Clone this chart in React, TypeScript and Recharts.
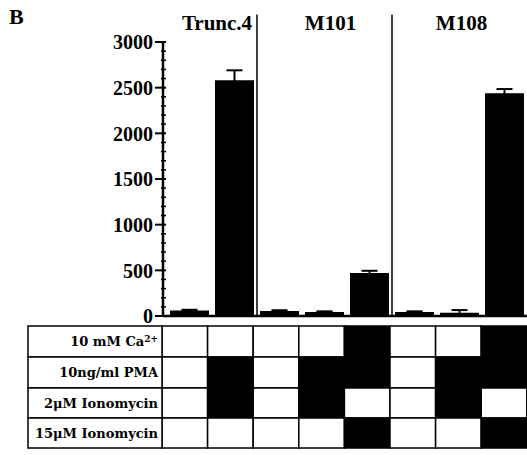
import { BarChart, Bar, XAxis, YAxis, ErrorBar, ReferenceLine } from "recharts";

const conditions = ["c1", "c2", "c3", "c4", "c5", "c6", "c7", "c8"];
const signal = [60, 2580, 55, 45, 470, 45, 35, 2440];
const signalErr = [8, 110, 8, 6, 25, 6, 30, 45];

const groups = [
  { name: "Trunc.4", at: "c2", position: "start", shift: 5 },
  { name: "M101", at: "c4", position: "middle", shift: 6 },
  { name: "M108", at: "c7", position: "middle", shift: 2 },
];
const dividers = ["c3", "c6"];

const rowLabels = ["10 mM Ca", "10ng/ml PMA", "2\u03bcM Ionomycin", "15\u03bcM Ionomycin"];
const ca = [0, 0, 0, 0, 1, 0, 0, 1];
const pma = [0, 1, 0, 1, 1, 0, 1, 1];
const iono2 = [0, 1, 0, 1, 0, 0, 1, 0];
const iono15 = [0, 0, 0, 0, 1, 0, 0, 1];
const rows = [ca, pma, iono2, iono15];

const majorTicks = [0, 500, 1000, 1500, 2000, 2500, 3000];
const yTicks = majorTicks.flatMap((t, i) =>
  i === 0 ? [t] : [t - 400, t - 300, t - 200, t - 100, t]
);

const data = conditions.map((c, i) => ({ c, v: signal[i], e: signalErr[i] }));

const SERIF = "'Liberation Serif', 'DejaVu Serif', serif";
const rowTop = [10, 41, 72, 102, 132];
const COL = 45.6;

function YTick(props: any) {
  const { x, y, payload } = props;
  const major = payload.value % 500 === 0;
  return (
    <g>
      <line
        x1={major ? x - 8 : x - 2}
        x2={x + 3}
        y1={y}
        y2={y}
        stroke="#000"
        strokeWidth={major ? 2 : 1.5}
      />
      {major && (
        <text
          x={x - 10}
          y={y}
          dy="0.36em"
          textAnchor="end"
          fontFamily={SERIF}
          fontWeight="bold"
          fontSize={20}
          fill="#000"
        >
          {payload.value}
        </text>
      )}
    </g>
  );
}

function TableTick(props: any) {
  const { x, y, index } = props;
  // table columns are a touch wider than the bar bands and start 5px to the left
  const left = x - 27.5 + index * (COL - 45);
  return (
    <g>
      {rows.map((row, r) => (
        <rect
          key={r}
          x={left}
          y={y + rowTop[r]}
          width={COL}
          height={rowTop[r + 1] - rowTop[r]}
          fill={row[index] ? "#000" : "#fff"}
          stroke="#000"
          strokeWidth={1.5}
        />
      ))}
      {index === 0 &&
        rowLabels.map((label, r) => (
          <g key={"l" + r}>
            <rect
              x={28}
              y={y + rowTop[r]}
              width={left - 28}
              height={rowTop[r + 1] - rowTop[r]}
              fill="#fff"
              stroke="#000"
              strokeWidth={1.5}
            />
            <text
              x={left - 4}
              y={y + (rowTop[r] + rowTop[r + 1]) / 2}
              dy="0.36em"
              textAnchor="end"
              fontFamily="'DejaVu Serif', serif"
              fontWeight="bold"
              fontSize={13}
              fill="#000"
            >
              {label}
              {r === 0 && (
                <tspan dy="-0.45em" fontSize={9}>
                  2+
                </tspan>
              )}
            </text>
          </g>
        ))}
    </g>
  );
}

function Header(props: any) {
  const { viewBox, value, shift } = props;
  return (
    <text
      x={viewBox.x + shift}
      y={30}
      textAnchor="middle"
      fontFamily={SERIF}
      fontWeight="bold"
      fontSize={21}
      fill="#000"
    >
      {value}
    </text>
  );
}

export default function App() {
  return (
    <div style={{ position: "absolute", left: 0, top: 0, width: 527, height: 455, background: "#fff" }}>
      <div
        style={{
          position: "absolute",
          left: 9,
          top: 4,
          fontFamily: SERIF,
          fontWeight: "bold",
          fontSize: 22,
        }}
      >
        B
      </div>
      <BarChart
        width={527}
        height={455}
        data={data}
        margin={{ top: 42, right: 0, bottom: 0, left: 0 }}
      >
        <XAxis
          dataKey="c"
          height={139}
          interval={0}
          padding={{ left: 4, right: 0 }}
          tickSize={0}
          tickMargin={0}
          axisLine={{ stroke: "#000", strokeWidth: 2.5 }}
          tickLine={false}
          tick={<TableTick />}
        />
        <YAxis
          width={163}
          domain={[0, 3000]}
          ticks={yTicks}
          interval={0}
          tickSize={0}
          tickMargin={0}
          axisLine={{ stroke: "#000", strokeWidth: 2.5 }}
          tickLine={false}
          tick={<YTick />}
        />
        {dividers.map((d) => (
          <ReferenceLine
            key={d}
            segment={[
              { x: d, y: 0 },
              { x: d, y: 3300 },
            ]}
            position="start"
            ifOverflow="visible"
            stroke="#000"
            strokeWidth={1.5}
          />
        ))}
        {groups.map((g) => (
          <ReferenceLine
            key={g.name}
            x={g.at}
            position={g.position as any}
            stroke="none"
            label={<Header value={g.name} shift={g.shift} />}
          />
        ))}
        <Bar dataKey="v" fill="#000" barSize={39} isAnimationActive={false}>
          <ErrorBar dataKey="e" width={8} stroke="#000" strokeWidth={2} direction="y" />
        </Bar>
      </BarChart>
    </div>
  );
}
